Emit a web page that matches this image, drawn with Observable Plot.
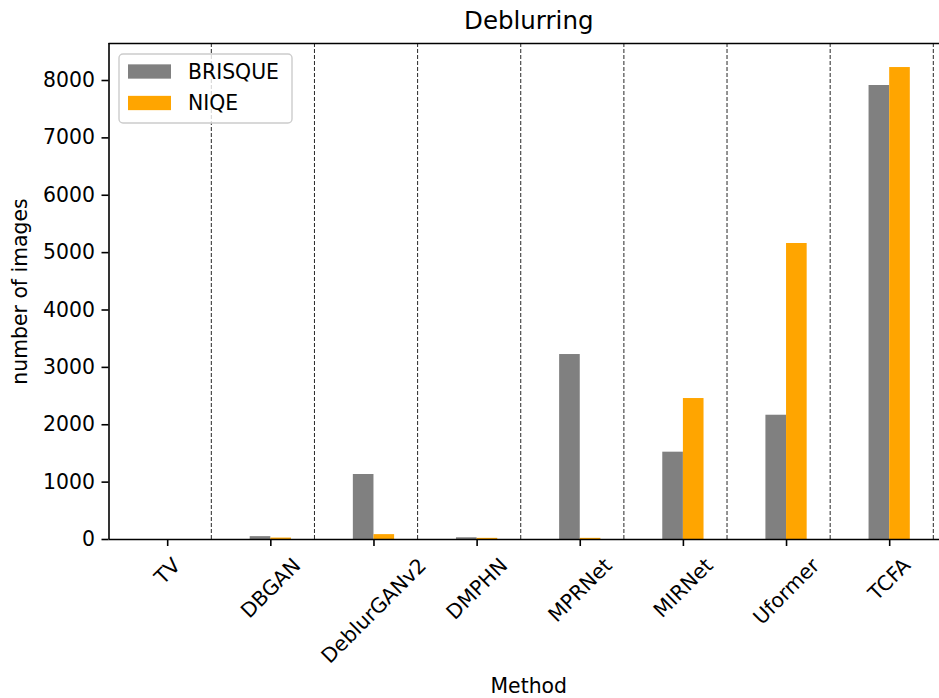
<!DOCTYPE html>
<html>
<head>
<meta charset="utf-8">
<script src="https://cdn.jsdelivr.net/npm/d3@7"></script>
<script src="https://cdn.jsdelivr.net/npm/@observablehq/plot@0.6"></script>
<style>
  html, body { margin: 0; padding: 0; background: #fff; }
  #chart { width: 939px; height: 698px; }
</style>
</head>
<body>
<div id="chart"></div>
<script>
// ---- data ----
const methods = ["TV", "DBGAN", "DeblurGANv2", "DMPHN", "MPRNet", "MIRNet", "Uformer", "TCFA"];
const brisque = [0, 50, 1133, 30, 3224, 1522, 2166, 7913];
const niqe = [0, 25, 85, 20, 20, 2457, 5159, 8226];
const yTicks = [0, 1000, 2000, 3000, 4000, 5000, 6000, 7000, 8000];
const seriesNames = ["BRISQUE", "NIQE"];
const seriesColors = ["#808080", "#FFA500"];
const titleText = "Deblurring";
const xLabel = "Method";
const yLabel = "number of images";

// ---- layout ----
const W = 939, H = 698;
const FONT = "DejaVu Sans";
const fs = 20.4;
const yMax = 8645;
const xDomain = [-0.569, 7.483];
const barW = 0.2;

const idx = methods.map((d, i) => i);

// measure tick label text widths for matplotlib-style centered rotated labels
const ctx = document.createElement("canvas").getContext("2d");
ctx.font = `${fs}px "${FONT}"`;
const labelMarks = methods.map((m, i) => {
  const w = ctx.measureText(m).width;
  const h = fs * 1.17;
  const half = (w + h) / (2 * Math.SQRT2);
  return Plot.text([m], {
    x: () => i, frameAnchor: "bottom", text: d => d,
    rotate: -45, textAnchor: "middle", lineAnchor: "middle",
    dy: 14.2 + half, fontSize: fs, fill: "black", fontFamily: FONT
  });
});

const chart = Plot.plot({
  width: W, height: H,
  marginLeft: 108.5, marginRight: 0, marginTop: 43, marginBottom: 159,
  style: { fontFamily: FONT, color: "black", background: "white", overflow: "visible" },
  x: { type: "linear", domain: xDomain },
  y: { type: "linear", domain: [0, yMax] },
  marks: [
    Plot.ruleX(idx, { x: i => i + 0.423, stroke: "black", strokeWidth: 1, strokeDasharray: "4,2", strokeOpacity: 0.85 }),
    Plot.rectY(idx, { x1: i => i - barW, x2: i => i, y: i => brisque[i], fill: seriesColors[0] }),
    Plot.rectY(idx, { x1: i => i, x2: i => i + barW, y: i => niqe[i], fill: seriesColors[1] }),
    Plot.ruleY([0], { stroke: "black", strokeWidth: 1.6 }),
    Plot.ruleY([yMax], { stroke: "black", strokeWidth: 1.6 }),
    Plot.ruleX([xDomain[0]], { stroke: "black", strokeWidth: 1.6 }),
    Plot.axisY({ ticks: yTicks, tickSize: 7, tickPadding: 7, tickFormat: d => String(d), fontSize: fs, label: null, strokeWidth: 1.6 }),
    Plot.axisX({ ticks: idx, tickSize: 7, tickFormat: () => "", label: null, strokeWidth: 1.6 }),
    ...labelMarks,
    Plot.text([titleText], { frameAnchor: "top", text: d => d, dx: 4.5, dy: -22, fontSize: 24.5, fill: "black", lineAnchor: "middle" }),
    Plot.text([xLabel], { frameAnchor: "bottom", text: d => d, dx: 4.5, dy: 147, fontSize: fs, fill: "black", lineAnchor: "middle" }),
    Plot.text([yLabel], { frameAnchor: "left", text: d => d, dx: -88.5, rotate: -90, fontSize: fs, fill: "black", lineAnchor: "middle", textAnchor: "middle" })
  ]
});

document.getElementById("chart").appendChild(chart);

// ---- legend (drawn inside the plot svg, upper left) ----
const svg = d3.select(chart);
const lg = svg.append("g").attr("class", "legend");
lg.append("rect")
  .attr("x", 119).attr("y", 54).attr("width", 173).attr("height", 69)
  .attr("rx", 4).attr("ry", 4)
  .attr("fill", "white").attr("fill-opacity", 0.8)
  .attr("stroke", "#cccccc").attr("stroke-width", 1.4);
seriesNames.forEach((name, k) => {
  const cy = 71.5 + k * 31.5;
  lg.append("rect")
    .attr("x", 128).attr("y", cy - 7.15).attr("width", 43).attr("height", 14.3)
    .attr("fill", seriesColors[k]);
  lg.append("text")
    .attr("x", 188).attr("y", cy).attr("dy", "0.36em")
    .style("font-family", FONT).style("font-size", fs + "px").style("text-anchor", "start")
    .attr("fill", "black")
    .text(name);
});
</script>
</body>
</html>
